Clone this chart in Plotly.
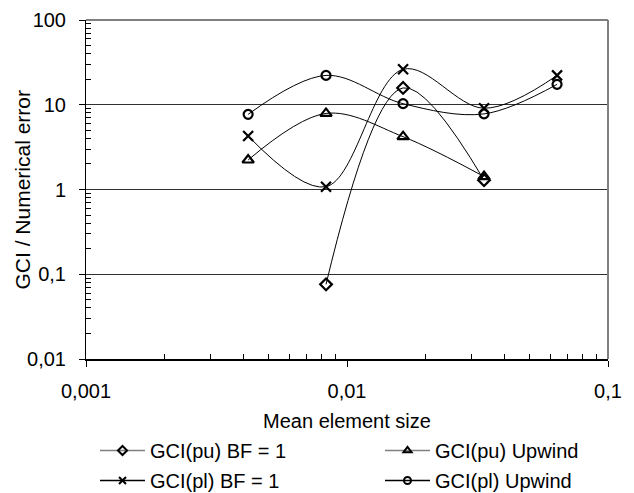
import plotly.graph_objects as go

# Data
mean_element_size = [0.00418, 0.00831, 0.0164, 0.0335, 0.0638]
gci_pu_bf1 = [None, 0.076, 15.8, 1.29, None]
gci_pu_upwind = [2.23, 7.9, 4.2, 1.42, None]
gci_pl_bf1 = [4.28, 1.08, 26.2, 9.1, 22.2]
gci_pl_upwind = [7.7, 22.2, 10.3, 7.8, 17.4]

series_names = ["GCI(pu) BF = 1", "GCI(pu) Upwind", "GCI(pl) BF = 1", "GCI(pl) Upwind"]

y_tickvals = [0.01, 0.1, 1, 10, 100]
y_ticktext = ["0,01", "0,1", "1", "10", "100"]
x_tickvals = [0.001, 0.01, 0.1]
x_ticktext = ["0,001", "0,01", "0,1"]

FONT = "Liberation Sans, Arial, sans-serif"

series = [
    (series_names[0], gci_pu_bf1, "diamond-open", "#808080", 9, "legend"),
    (series_names[1], gci_pu_upwind, "triangle-up-open", "#808080", 10, "legend2"),
    (series_names[2], gci_pl_bf1, "x-thin-open", "black", 10, "legend"),
    (series_names[3], gci_pl_upwind, "circle-open", "black", 9, "legend2"),
]

fig = go.Figure()
# plotted curves
for name, vals, sym, legcol, size, leg in series:
    fig.add_trace(go.Scatter(
        x=mean_element_size, y=vals, name=name, showlegend=False,
        mode="lines+markers",
        line=dict(color="black", width=1, shape="spline", smoothing=1),
        marker=dict(symbol=sym, size=size, color="black",
                    line=dict(color="black", width=2.2)),
        connectgaps=False,
    ))
# legend entries
for i, (name, vals, sym, legcol, size, leg) in enumerate(series):
    fig.add_trace(go.Scatter(
        x=[None], y=[None], name=name, showlegend=True, legend=leg,
        legendgroup="g%d" % i,
        mode="lines+markers",
        line=dict(color=legcol, width=1.5),
        marker=dict(symbol=sym, size=7, color="black",
                    line=dict(color="black", width=2)),
    ))

y_minor = [k * 10.0 ** e for e in range(-2, 2) for k in range(2, 10)]
x_minor = [k * 10.0 ** e for e in range(-3, -1) for k in range(2, 10)]

legend_common = dict(
    orientation="v", xanchor="left", yanchor="top",
    xref="container", yref="container",
    font=dict(family=FONT, size=20, color="black"),
    bgcolor="rgba(0,0,0,0)", tracegroupgap=1, itemwidth=45,
)

fig.update_layout(
    width=634, height=493,
    margin=dict(l=78, r=34, t=12, b=142, autoexpand=False),
    paper_bgcolor="white", plot_bgcolor="white",
    font=dict(family=FONT, size=20, color="black"),
    showlegend=True,
    legend=dict(x=87 / 634, y=1 - 423 / 493, **legend_common),
    legend2=dict(x=372 / 634, y=1 - 423 / 493, **legend_common),
    xaxis=dict(
        type="log", range=[-3, -1], automargin=True,
        tickvals=x_tickvals, ticktext=x_ticktext,
        ticks="outside", ticklen=6, tickwidth=1, tickcolor="black",
        ticklabelstandoff=7,
        showline=True, linecolor="black", linewidth=2,
        showgrid=False, zeroline=False,
        tickfont=dict(size=20),
        minor=dict(tickvals=x_minor, ticks="inside", ticklen=5,
                   tickcolor="black", tickwidth=1, showgrid=False),
        title=dict(text="Mean element size", font=dict(size=20), standoff=13),
    ),
    yaxis=dict(
        type="log", range=[-2, 2], automargin=True,
        tickvals=y_tickvals, ticktext=y_ticktext,
        ticks="outside", ticklen=6, tickwidth=1, tickcolor="black",
        ticklabelstandoff=9,
        showline=True, linecolor="black", linewidth=1,
        showgrid=True, gridcolor="#303030", gridwidth=1,
        zeroline=False,
        tickfont=dict(size=20),
        minor=dict(tickvals=y_minor, ticks="inside", ticklen=5,
                   tickcolor="black", tickwidth=1, showgrid=False),
        title=dict(text=""),
    ),
    annotations=[
        dict(text="GCI / Numerical error", textangle=-90,
             xref="paper", yref="paper", x=(14 - 78) / 522, y=0.5,
             xanchor="center", yanchor="middle", showarrow=False,
             font=dict(family=FONT, size=21, color="black")),
    ],
    shapes=[
        dict(type="line", xref="paper", yref="paper", x0=0, x1=1, y0=1, y1=1,
             line=dict(color="black", width=1)),
        dict(type="line", xref="paper", yref="paper", x0=1, x1=1, y0=0, y1=1,
             line=dict(color="#808080", width=2)),
    ],
)

fig.write_html("out.html")
